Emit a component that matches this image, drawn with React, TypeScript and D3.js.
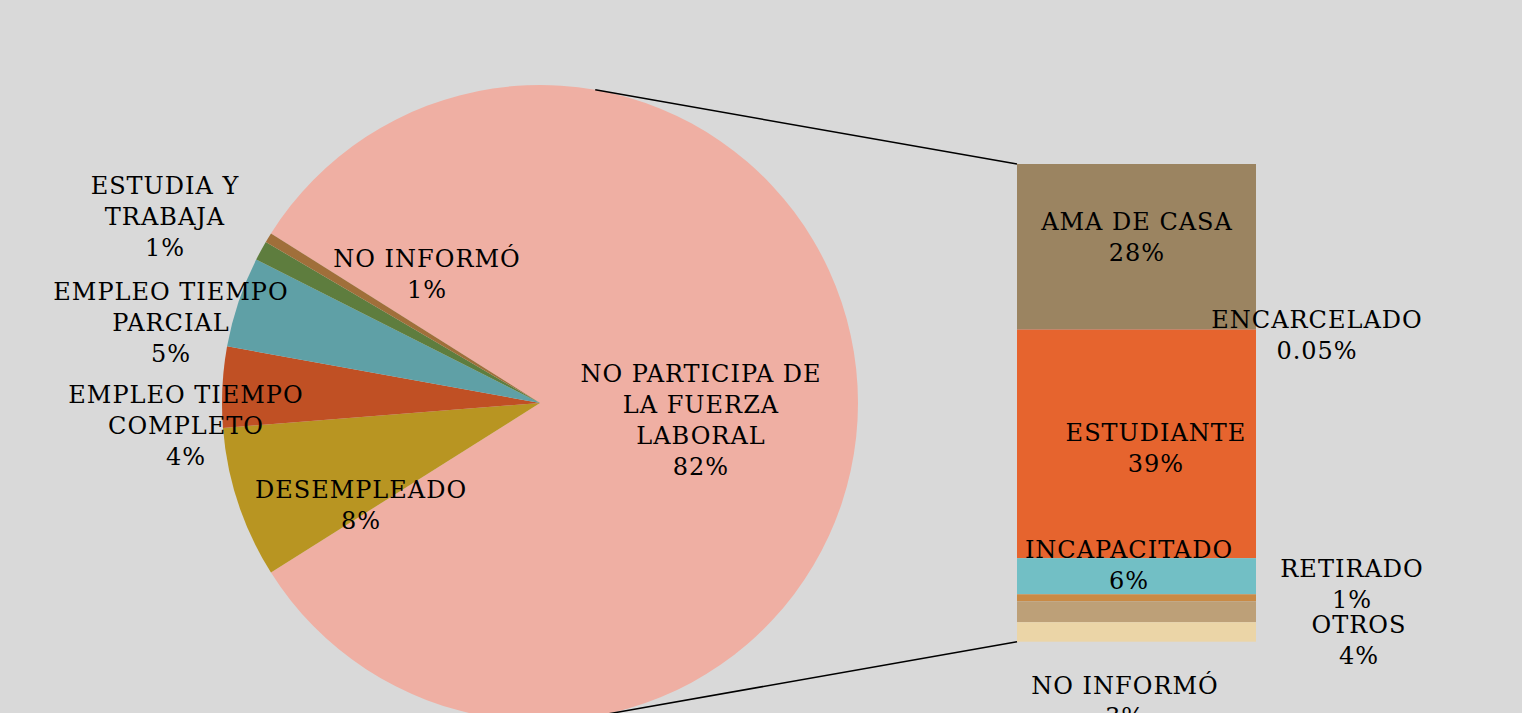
import React from "react";
import * as d3 from "d3";

// ---- Data ----
const pieCategories = [
  "NO PARTICIPA DE LA FUERZA LABORAL",
  "DESEMPLEADO",
  "EMPLEO TIEMPO COMPLETO",
  "EMPLEO TIEMPO PARCIAL",
  "ESTUDIA Y TRABAJA",
  "NO INFORMÓ",
];
const pieLabelLines = [
  ["NO PARTICIPA DE", "LA FUERZA", "LABORAL"],
  ["DESEMPLEADO"],
  ["EMPLEO TIEMPO", "COMPLETO"],
  ["EMPLEO TIEMPO", "PARCIAL"],
  ["ESTUDIA Y", "TRABAJA"],
  ["NO INFORMÓ"],
];
const pieColors = ["#efafa3", "#b89522", "#c05024", "#5fa0a6", "#5e7d3e", "#a06f3a"];

const barCategories = [
  "AMA DE CASA",
  "ENCARCELADO",
  "ESTUDIANTE",
  "INCAPACITADO",
  "RETIRADO",
  "OTROS",
  "NO INFORMÓ",
];
const barValues = [28.4, 0.05, 39.3, 6.2, 1.2, 3.6, 3.35];
const barColors = ["#9b8461", "#5a5a5a", "#e6642e", "#72bfc5", "#c98a45", "#bda078", "#ebd5a7"];

// small pie values (the first slice is the sum of the bar)
const pieSmallValues = [7.7, 4.1, 4.6, 1.0, 0.5];
const pieValues = [d3.sum(barValues), ...pieSmallValues];

// ---- Layout ----
const W = 1522;
const H = 713;
const cx = 540;
const cy = 403;
const R = 318;
const barX0 = 1017;
const barX1 = 1256;
const barTop = 164;
const barBottom = 641.7;
const connectorAngle = 80; // degrees from horizontal
const fontSize = 24;
const lineH = 31;

// label anchors (center x, first baseline y) in pie order / bar order
const pieLabelPos = [
  [701, 382],
  [361, 498],
  [186, 403],
  [171, 300],
  [165, 194],
  [427, 267],
];
const barLabelPos = [
  [1137, 230],
  [1317, 328],
  [1156, 441],
  [1129, 558],
  [1352, 577],
  [1359, 633],
  [1125, 694],
];

const fmt = (v: number) => (v < 0.5 && v > 0 ? v.toFixed(2) : String(Math.round(v))) + "%";

export default function App() {
  const total = d3.sum(pieValues);
  const startAngle = Math.PI / 2 - (pieValues[0] / total) * Math.PI;
  const pie = d3
    .pie<number>()
    .sort(null)
    .value((d) => d)
    .startAngle(startAngle)
    .endAngle(startAngle + 2 * Math.PI);
  const arcs = pie(pieValues);
  const arc = d3.arc<d3.PieArcDatum<number>>().innerRadius(0).outerRadius(R);

  const barSum = d3.sum(barValues);
  const y = d3.scaleLinear().domain([0, barSum]).range([barTop, barBottom]);
  const cum = barValues.map((_, i) => d3.sum(barValues.slice(0, i)));

  const a = (connectorAngle * Math.PI) / 180;
  const pTop = [cx + R * Math.cos(a), cy - R * Math.sin(a)];
  const pBot = [cx + R * Math.cos(a), cy + R * Math.sin(a)];

  const textStyle: React.CSSProperties = {
    fontFamily: "'DejaVu Serif', serif",
    fontSize,
    letterSpacing: 1,
    fill: "#000",
  };

  const renderLabel = (lines: string[], pos: number[], key: string) => (
    <text key={key} x={pos[0]} y={pos[1]} textAnchor="middle" style={textStyle}>
      {lines.map((l, i) => (
        <tspan key={i} x={pos[0]} y={pos[1] + i * lineH}>
          {l}
        </tspan>
      ))}
    </text>
  );

  return (
    <svg
      width={W}
      height={H}
      style={{ position: "absolute", left: 0, top: 0, background: "#d9d9d9" }}
    >
      <rect x={0} y={0} width={W} height={H} fill="#d9d9d9" />
      <g transform={`translate(${cx},${cy})`}>
        {arcs.map((d, i) => (
          <path key={i} d={arc(d) || ""} fill={pieColors[i]} />
        ))}
      </g>
      {barValues.map((v, i) => (
        <rect
          key={i}
          x={barX0}
          width={barX1 - barX0}
          y={y(cum[i])}
          height={y(cum[i] + v) - y(cum[i])}
          fill={barColors[i]}
        />
      ))}
      <line x1={pTop[0]} y1={pTop[1]} x2={barX0} y2={barTop} stroke="#000" strokeWidth={1.5} />
      <line x1={pBot[0]} y1={pBot[1]} x2={barX0} y2={barBottom} stroke="#000" strokeWidth={1.5} />
      {pieLabelLines.map((lines, i) =>
        renderLabel([...lines, fmt(pieValues[i])], pieLabelPos[i], "p" + i)
      )}
      {barCategories.map((c, i) => renderLabel([c, fmt(barValues[i])], barLabelPos[i], "b" + i))}
    </svg>
  );
}
